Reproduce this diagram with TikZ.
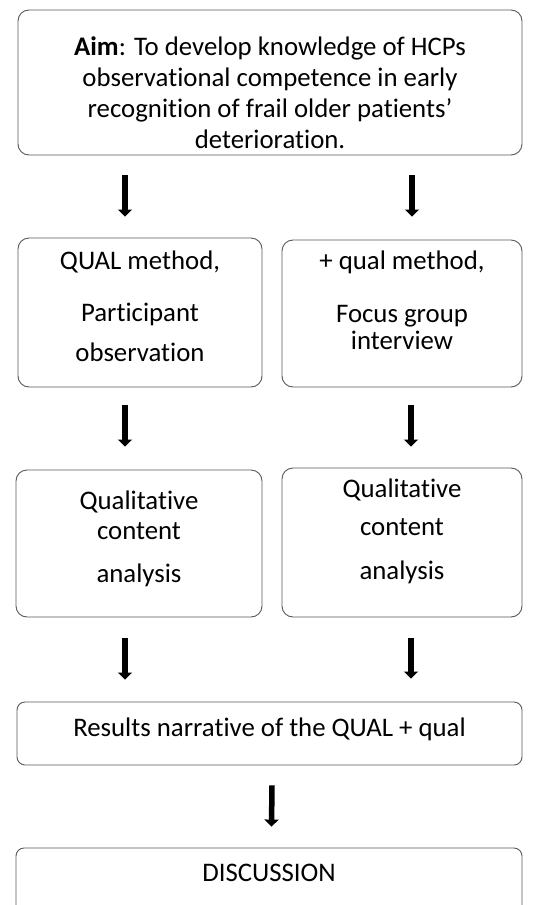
\documentclass[tikz,border=0pt]{standalone}
\usepackage{fontspec}
\setmainfont[Ligatures=NoCommon]{Carlito}
\usetikzlibrary{arrows.meta,calc}

\begin{document}
\begin{tikzpicture}[x=1pt, y=-1pt,
    box/.style={draw=black!65, line width=0.9pt, rounded corners=11pt, inner sep=0pt},
    txt/.style={align=center, font=\fontsize{26.8}{31}\selectfont, inner sep=0pt},
    arr/.style={line width=5.5pt, -{Triangle[width=14pt,length=7pt]}}]

    \clip (0,0) rectangle (538,905);
    \fill[white] (0,0) rectangle (538,905);

    % Aim
    \node[box, minimum width=504pt, minimum height=145pt] (aim) at (270,82.5) {};
    \node[txt] (aimtext) at (270,93) {\textbf{Aim}: To develop knowledge of HCPs\\
        observational competence in early\\
        recognition of frail older patients'\\
        deterioration.};

    % Methods
    \node[box, minimum width=244pt, minimum height=149pt] (qualA) at (140,312.5) {};
    \node[txt] (qualAtext) at (140,306) {QUAL method,\\[21pt] Participant\\[9pt] observation};
    \node[box, minimum width=240pt, minimum height=147pt] (qualB) at (402,313.5) {};
    \node[txt] (qualBtext) at (402,300) {+ qual method,\\[22pt] Focus group\\[-4pt] interview};

    % Analysis
    \node[box, minimum width=246pt, minimum height=147pt] (anaA) at (139,543.5) {};
    \node[txt] (anaAtext) at (139,539) {Qualitative\\[-1pt] content\\[12pt] analysis};
    \node[box, minimum width=240pt, minimum height=149pt] (anaB) at (402,542.5) {};
    \node[txt] (anaBtext) at (402,531) {Qualitative\\[7pt] content\\[13pt] analysis};

    % Results and discussion
    \node[box, minimum width=505pt, minimum height=63pt, rounded corners=8pt] (res) at (269.5,733.5) {};
    \node[txt] (restext) at (269.5,729) {Results narrative of the QUAL + qual};
    \node[box, minimum width=506pt, minimum height=110pt, rounded corners=8pt] (disc) at (269,903) {};
    \node[txt] (disctext) at (269,873) {DISCUSSION};

    % Arrows
    \draw[arr] ($(aim.south -| qualA.north)+(-15,20)$) -- ($(qualA.north)+(-15,-21)$);
    \draw[arr] ($(aim.south -| qualB.north)+(10,20)$) -- ($(qualB.north)+(10,-23)$);
    \draw[arr] ($(qualA.south)+(-15,18)$) -- ($(anaA.north)+(-14,-23)$);
    \draw[arr] ($(qualB.south)+(9,18)$) -- ($(anaB.north)+(9,-21)$);
    \draw[arr] ($(anaA.south)+(-14,21)$) -- ($(anaA.south |- res.north)+(-14,-22)$);
    \draw[arr] ($(anaB.south)+(9,21)$) -- ($(anaB.south |- res.north)+(9,-23)$);
    \draw[arr] ($(res.south)+(2.5,20)$) -- ($(disc.north)+(2.5,-21)$);

\end{tikzpicture}
\end{document}
